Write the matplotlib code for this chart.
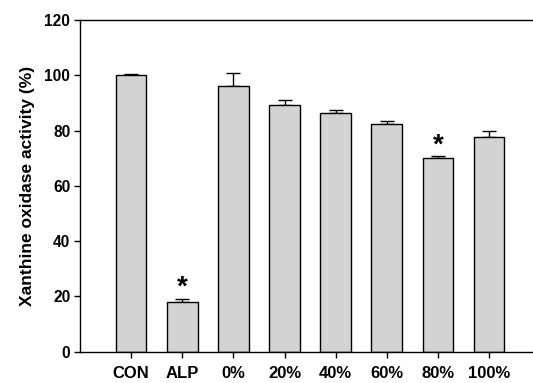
import numpy as np
import matplotlib
matplotlib.use("Agg")
import matplotlib.pyplot as plt

plt.rcParams["font.family"] = ["Liberation Sans", "DejaVu Sans"]
plt.rcParams["font.weight"] = "bold"

# ── data ────────────────────────────────────────────────────────────────
groups = ["CON", "ALP", "0%", "20%", "40%", "60%", "80%", "100%"]
activity = [100.0, 18.1, 96.1, 89.3, 86.4, 82.5, 70.2, 77.6]
err = [0.3, 0.9, 4.7, 1.8, 1.1, 1.0, 0.5, 2.1]
signif = [False, True, False, False, False, False, True, False]

W, H = 533, 383
fig = plt.figure(figsize=(W / 100, H / 100), dpi=100)
ax = fig.add_axes([80 / W, (H - 351.7) / H, (532 - 80) / W, (351.7 - 20) / H])

x = np.arange(len(groups))
ax.bar(x, activity, width=0.6, color="#d3d3d3", edgecolor="black", linewidth=1.0, zorder=2)
ax.errorbar(x, activity, yerr=[np.zeros(len(err)), err], fmt="none",
            ecolor="black", elinewidth=1.0, capsize=5, capthick=1.0, zorder=1)

# significance stars
for xi, v, e, s in zip(x, activity, err, signif):
    if s:
        ax.text(xi, v + e + 1.5, "*", ha="center", va="baseline", fontsize=20, fontweight="bold")

ax.set_xlim(-1.0, 7.84)
ax.set_ylim(0, 120)
ax.set_yticks([0, 20, 40, 60, 80, 100, 120])
ax.set_xticks(x)
ax.set_xticklabels(groups, fontsize=12, fontweight="bold")
ax.tick_params(axis="y", labelsize=11.2, length=4, width=1, pad=3)
ax.tick_params(axis="x", length=4, width=1, pad=6.5)
ax.set_ylabel("Xanthine oxidase activity (%)", fontsize=12.5, fontweight="bold", labelpad=7)
ax.spines["right"].set_visible(False)
for sp in ["left", "top", "bottom"]:
    ax.spines[sp].set_linewidth(1.0)

fig.savefig("out.png", dpi=100)
